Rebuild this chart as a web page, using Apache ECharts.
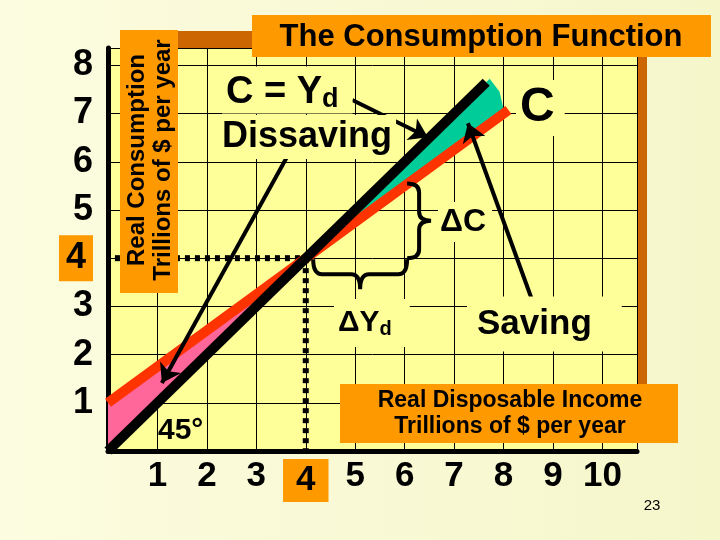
<!DOCTYPE html>
<html>
<head>
<meta charset="utf-8">
<script src="https://cdn.jsdelivr.net/npm/echarts@6/dist/echarts.min.js"></script>
<style>
  html, body { margin: 0; padding: 0; }
  #container { width: 720px; height: 540px; }
</style>
</head>
<body>
<div id="container"></div>
<script>
// consumption function C = 1 + 0.75 Yd, drawn from Yd = 0 to 8.1
var incomeLevels = [0, 4, 8.1];
var consumptionLevels = [1, 4, 7.075];
var diagonal = [[0, 0], [7.65, 7.65]];
var breakEven = [4, 4];
var dissavingArea = [[0, 0], [0, 1], [4, 4]];
var savingArea = [[4, 4], [7.72, 7.72], [7.92, 7.45], [8.02, 7.0]];
var guideLines = [
  [[0.14, 4], [4, 4]],
  [[4, 4], [4, 0]]
];
var arrows = [
  [[3.62, 6.1], [1.09, 1.41]],
  [[4.94, 7.28], [6.47, 6.51]],
  [[8.6, 3.07], [7.28, 6.8]]
];
var braceC = [[6.05, 5.55], [6.05, 4.0]];
var braceYd = [[4.15, 3.98], [6.05, 3.98]];

var FONT = '"Liberation Sans", Arial, sans-serif';
var ORANGE = '#FF9900';
var YELLOW = '#FFFF99';

var myChart = echarts.init(document.getElementById('container'));

function bracePath(a, b, n, d) {
  var dx = b[0] - a[0], dy = b[1] - a[1];
  var len = Math.sqrt(dx * dx + dy * dy);
  var u = [dx / len, dy / len];
  var r = Math.min(9, len / 4);
  var h = d / 2;
  var m = [(a[0] + b[0]) / 2, (a[1] + b[1]) / 2];
  function p(base, nf, uf) {
    return (base[0] + n[0] * nf + u[0] * uf) + ' ' + (base[1] + n[1] * nf + u[1] * uf);
  }
  return 'M' + p(a, 0, 0) +
    ' Q' + p(a, h, 0) + ' ' + p(a, h, r) +
    ' L' + p(m, h, -r) +
    ' Q' + p(m, h, 0) + ' ' + p(m, d, 0) +
    ' Q' + p(m, h, 0) + ' ' + p(m, h, r) +
    ' L' + p(b, h, -r) +
    ' Q' + p(b, h, 0) + ' ' + p(b, 0, 0);
}

function areaSeries(points, color) {
  return {
    type: 'custom',
    data: [[0, 0]],
    z: 1,
    renderItem: function (params, api) {
      return {
        type: 'polygon',
        shape: { points: points.map(function (p) { return api.coord(p); }) },
        style: { fill: color }
      };
    }
  };
}

function braceSeries(ends, normal, depth) {
  return {
    type: 'custom',
    data: [[0, 0]],
    z: 4,
    renderItem: function (params, api) {
      return {
        type: 'path',
        shape: { pathData: bracePath(api.coord(ends[0]), api.coord(ends[1]), normal, depth) },
        style: { fill: null, stroke: '#000', lineWidth: 4 }
      };
    }
  };
}

function txt(x, y, text, size, extra) {
  var el = {
    type: 'text', x: x, y: y, z: 10,
    style: {
      text: text,
      font: 'bold ' + size + 'px ' + FONT,
      fill: '#000',
      align: 'left', textAlign: 'left',
      verticalAlign: 'middle', textVerticalAlign: 'middle'
    }
  };
  if (extra) {
    for (var k in extra) el.style[k] = extra[k];
  }
  return el;
}

option = {
  backgroundColor: {
    type: 'linear', x: 0, y: 0, x2: 1, y2: 0,
    colorStops: [{ offset: 0, color: '#FCFCE0' }, { offset: 1, color: '#F6F6CB' }]
  },
  animation: false,
  grid: {
    left: 108, top: 48, width: 529, height: 403,
    show: true, backgroundColor: YELLOW, borderWidth: 0
  },
  xAxis: {
    type: 'value', min: 0, max: 10.7, interval: 1,
    axisLine: { lineStyle: { color: '#000', width: 5 } },
    axisTick: { show: false },
    splitLine: { lineStyle: { color: '#000', width: 1 } },
    axisLabel: {
      showMaxLabel: false,
      margin: 8,
      color: '#000',
      fontSize: 35, fontWeight: 'bold', fontFamily: FONT,
      formatter: function (v) {
        if (v === 0) return '';
        return v === 4 ? '{hl|4}' : String(v);
      },
      rich: {
        hl: { backgroundColor: ORANGE, padding: [4, 13, 4, 13], fontSize: 35, fontWeight: 'bold', fontFamily: FONT, color: '#000' }
      }
    }
  },
  yAxis: {
    type: 'value', min: 0, max: 8.36, interval: 1,
    axisLine: { lineStyle: { color: '#000', width: 5 } },
    axisTick: { show: false },
    splitLine: { lineStyle: { color: '#000', width: 1 } },
    axisLabel: {
      showMaxLabel: false,
      margin: 15,
      color: '#000',
      fontSize: 36, fontWeight: 'bold', fontFamily: FONT,
      formatter: function (v) {
        if (v === 0) return '';
        return v === 4 ? '{hl|4}' : String(v);
      },
      rich: {
        hl: { backgroundColor: ORANGE, padding: [5, 7, 5, 7], fontSize: 36, fontWeight: 'bold', fontFamily: FONT, color: '#000' }
      }
    }
  },
  series: [
    areaSeries(dissavingArea, '#FF6699'),
    areaSeries(savingArea, '#00CC99'),
    {
      type: 'line',
      name: 'C',
      data: incomeLevels.map(function (x, i) { return [x, consumptionLevels[i]]; }),
      symbol: 'none',
      z: 2,
      lineStyle: { color: '#FF3300', width: 10, cap: 'butt' }
    },
    {
      type: 'line',
      name: '45',
      data: diagonal,
      symbol: 'none',
      z: 3,
      lineStyle: { color: '#000', width: 10, cap: 'butt' }
    },
    {
      type: 'custom',
      data: guideLines.map(function (g, i) { return [i, 0]; }),
      z: 2,
      renderItem: function (params, api) {
        var g = guideLines[params.dataIndex];
        var a = api.coord(g[0]), b = api.coord(g[1]);
        return {
          type: 'line',
          shape: { x1: a[0], y1: a[1], x2: b[0], y2: b[1] },
          style: { stroke: '#000', lineWidth: 6, lineDash: [5, 5] }
        };
      }
    },
    {
      type: 'lines',
      coordinateSystem: 'cartesian2d',
      z: 5,
      symbol: ['none', 'arrow'],
      symbolSize: [13, 18],
      lineStyle: { color: '#000', width: 4, opacity: 1 },
      data: arrows.map(function (a) { return { coords: a }; })
    },
    braceSeries(braceC, [1, 0], 24),
    braceSeries(braceYd, [0, 1], 30)
  ],
  graphic: [
    { type: 'rect', z: -1, shape: { x: 120, y: 31, width: 527, height: 360 }, style: { fill: '#CC6600' } },
    { type: 'rect', z: 10, shape: { x: 252, y: 15, width: 459, height: 42 }, style: { fill: ORANGE } },
    txt(481, 37, 'The Consumption Function', 31, { align: 'center', textAlign: 'center' }),
    { type: 'rect', z: 10, shape: { x: 120, y: 30, width: 58, height: 263 }, style: { fill: ORANGE } },
    {
      type: 'text', x: 150, y: 160, z: 11, rotation: Math.PI / 2,
      style: {
        text: 'Real Consumption\nTrillions of $ per year',
        font: 'bold 24px ' + FONT, fill: '#000', lineHeight: 26,
        align: 'center', textAlign: 'center', verticalAlign: 'middle', textVerticalAlign: 'middle'
      }
    },
    { type: 'rect', z: 10, shape: { x: 340, y: 384, width: 338, height: 59 }, style: { fill: ORANGE } },
    txt(510, 414, 'Real Disposable Income\nTrillions of $ per year', 23, { align: 'center', textAlign: 'center', lineHeight: 26 }),
    txt(222, 90, '{b|C = Y}{s|d}', 38, {
      backgroundColor: YELLOW, padding: [6, 14, 0, 4],
      rich: {
        b: { fontSize: 38, fontWeight: 'bold', fontFamily: FONT, color: '#000' },
        s: { fontSize: 27, fontWeight: 'bold', fontFamily: FONT, color: '#000', verticalAlign: 'bottom', padding: [14, 0, 0, 0] }
      }
    }),
    txt(218, 137, 'Dissaving', 36, { backgroundColor: YELLOW, padding: [2, 4, 6, 4] }),
    txt(516, 108, 'C', 48, { backgroundColor: YELLOW, padding: [4, 10, 4, 4] }),
    txt(438, 222, 'ΔC', 32, { backgroundColor: YELLOW, padding: [4, 6, 4, 2] }),
    txt(334, 323, '{b|ΔY}{s|d}', 30, {
      backgroundColor: YELLOW, padding: [8, 18, 8, 4],
      rich: {
        b: { fontSize: 30, fontWeight: 'bold', fontFamily: FONT, color: '#000' },
        s: { fontSize: 20, fontWeight: 'bold', fontFamily: FONT, color: '#000', verticalAlign: 'bottom', padding: [12, 0, 0, 0] }
      }
    }),
    txt(467, 324, 'Saving', 35, { backgroundColor: YELLOW, padding: [10, 30, 10, 10] }),
    txt(158, 431, '45°', 30),
    {
      type: 'text', x: 652, y: 506, z: 10,
      style: { text: '23', font: '15px ' + FONT, fill: '#000', align: 'center', textAlign: 'center', verticalAlign: 'middle', textVerticalAlign: 'middle' }
    }
  ]
};

myChart.setOption(option);
</script>
</body>
</html>
